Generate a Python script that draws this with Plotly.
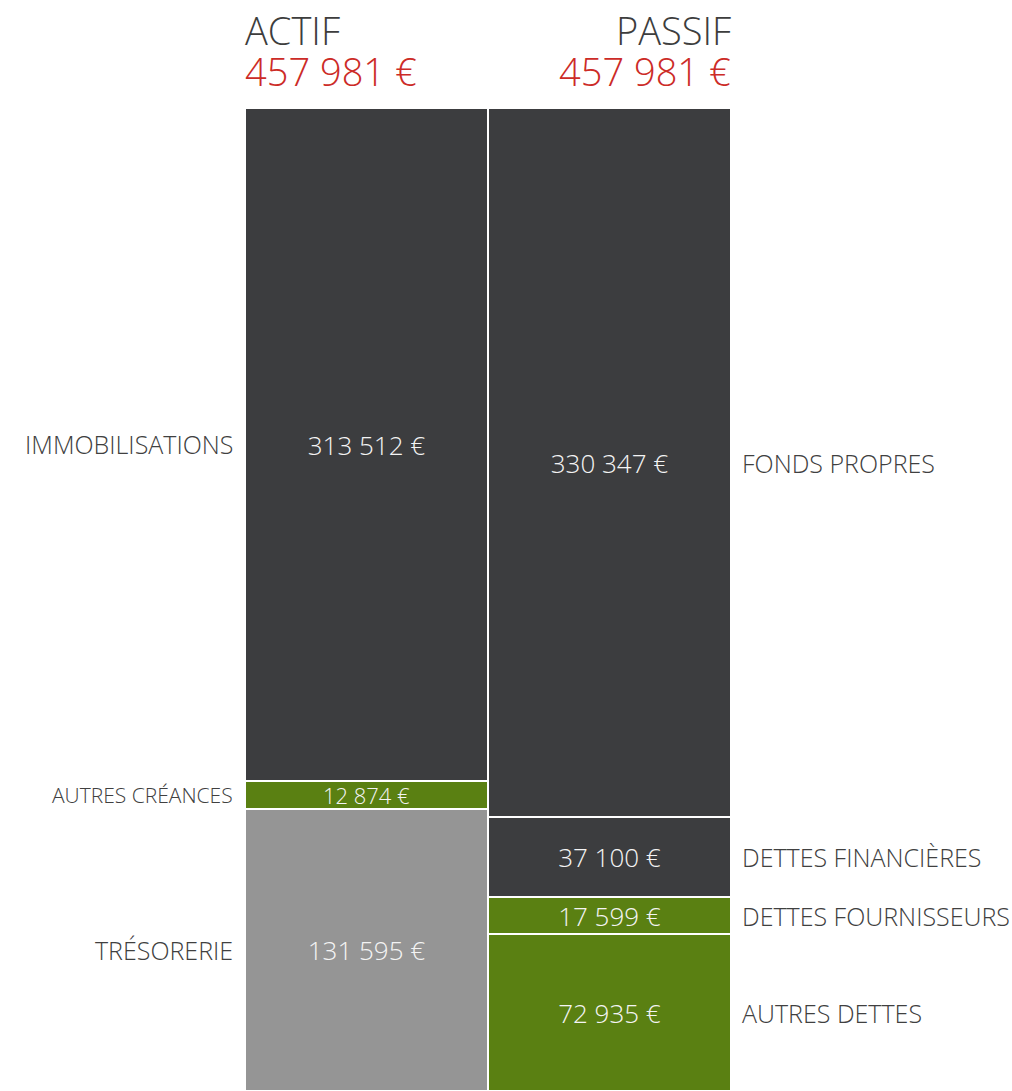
import plotly.graph_objects as go

columns = ["ACTIF", "PASSIF"]
totals = [457981, 457981]

# segments listed bottom -> top
actif_labels = ["TRÉSORERIE", "AUTRES CRÉANCES", "IMMOBILISATIONS"]
actif_values = [131595, 12874, 313512]
actif_colors = ["#959595", "#5a8012", "#3c3d3f"]
actif_fontsizes = [26, 22, 26]
actif_labelsizes = [25, 21, 25]

passif_labels = ["AUTRES DETTES", "DETTES FOURNISSEURS", "DETTES FINANCIÈRES", "FONDS PROPRES"]
passif_values = [72935, 17599, 37100, 330347]
passif_colors = ["#5a8012", "#5a8012", "#3c3d3f", "#3c3d3f"]
passif_fontsizes = [26, 26, 26, 26]
passif_labelsizes = [25, 25, 25, 25]

FONT = "Open Sans"
x0, x1 = 245 / 1012, 731 / 1012


def fmt(v):
    return f"{v:,}".replace(",", " ") + " €"


fig = go.Figure()
annotations = []

for col, labels, values, colors, fsz, lsz, side in [
    (columns[0], actif_labels, actif_values, actif_colors, actif_fontsizes, actif_labelsizes, "left"),
    (columns[1], passif_labels, passif_values, passif_colors, passif_fontsizes, passif_labelsizes, "right"),
]:
    cum = 0
    for lab, val, colr, fs, ls in zip(labels, values, colors, fsz, lsz):
        fig.add_trace(go.Bar(
            x=[col], y=[val], name=lab,
            marker=dict(color=colr, line=dict(color="white", width=2)),
            text=[fmt(val)], textposition="inside", insidetextanchor="middle",
            textangle=0, constraintext="none",
            textfont=dict(family=FONT, size=fs, color="#f4f4f4", weight=300),
            hoverinfo="skip", showlegend=False,
        ))
        mid = cum + val / 2
        cum += val
        if side == "left":
            annotations.append(dict(x=x0, xref="paper", y=mid, yref="y", text=lab,
                                    xanchor="right", yanchor="middle", xshift=-10, showarrow=False,
                                    font=dict(family=FONT, size=ls, color="#404040", weight=300)))
        else:
            annotations.append(dict(x=x1, xref="paper", y=mid, yref="y", text=lab,
                                    xanchor="left", yanchor="middle", xshift=9, showarrow=False,
                                    font=dict(family=FONT, size=ls, color="#404040", weight=300)))

# headers
for i, (col, tot) in enumerate(zip(columns, totals)):
    xa = x0 if i == 0 else x1
    anchor = "left" if i == 0 else "right"
    annotations.append(dict(x=xa, xref="paper", y=(1091 - 30) / 983, yref="paper", text=col,
                            xanchor=anchor, yanchor="middle", showarrow=False, xshift=-2 if i == 0 else 2,
                            font=dict(family=FONT, size=38, color="#3d3d3d", weight=300)))
    annotations.append(dict(x=xa, xref="paper", y=(1091 - 71) / 983, yref="paper", text=fmt(tot),
                            xanchor=anchor, yanchor="middle", showarrow=False, xshift=-2 if i == 0 else 2,
                            font=dict(family=FONT, size=38, color="#cc2b27", weight=300)))

fig.update_layout(
    width=1012, height=1091,
    margin=dict(l=0, r=0, t=108, b=0),
    barmode="stack", bargap=0,
    paper_bgcolor="white", plot_bgcolor="rgba(0,0,0,0)",
    xaxis=dict(domain=[x0, x1], visible=False, categoryorder="array", categoryarray=columns),
    yaxis=dict(range=[0, max(totals)], visible=False),
    annotations=annotations,
)

fig.write_html("out.html", config={"displayModeBar": False},
               post_script="document.body.style.margin='0';document.body.style.overflow='hidden';")
